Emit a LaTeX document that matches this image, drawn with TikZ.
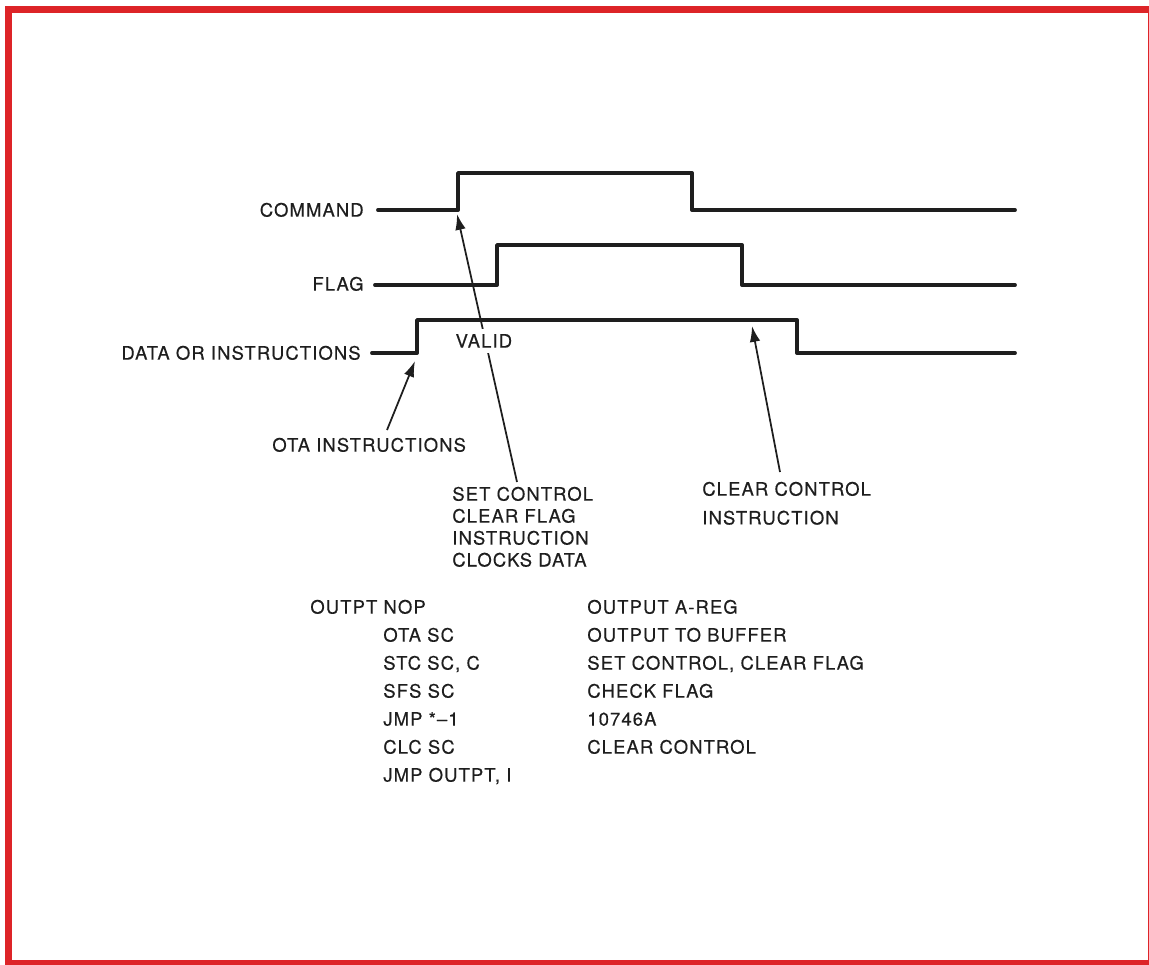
\documentclass[tikz,border=0pt]{standalone}
\usepackage{fontspec}
\setmainfont{TeX Gyre Heros}[LetterSpace=6, FakeBold=0.4]
\usepackage{tikz}
\usetikzlibrary{arrows.meta,positioning,calc}
\definecolor{FrameRed}{RGB}{221,36,40}
\definecolor{InkGray}{RGB}{30,30,30}

\tikzset{
  wave/.style={line width=2.2pt, InkGray, line join=round, line cap=round},
  pointer/.style={-{Latex[length=9pt,width=6pt]}, line width=1pt, InkGray},
  lbl/.style={inner sep=0pt, text height=7.5pt, text depth=0pt, text=InkGray,
    font=\fontsize{10.5}{12.5}\selectfont},
  block/.style={inner sep=0pt, align=left, anchor=north west, text=InkGray}
}

\begin{document}
\begin{tikzpicture}[x=0.02cm, y=-0.02cm]
        \useasboundingbox (0,0) rectangle (1149,964);
        \clip (0,0) rectangle (1149,964);
        \draw[FrameRed, line width=4pt] (8.5,9.5) rectangle (1151.5,963.5);
        % signal names
        \node[lbl, anchor=east] (cmdname) at (364,210) {COMMAND};
        \node[lbl, anchor=east] (flagname) at (364,284) {FLAG};
        \node[lbl, anchor=east] (dataname) at (361,353) {DATA OR INSTRUCTIONS};
        % waveforms
        \draw[wave] (378,210) -- (458,210) -- (458,173) -- (692,173) -- (692,210) -- (1015,210);
        \draw[wave] (375,285) -- (497,285) -- (497,245) -- (742,245) -- (742,285) -- (1015,285);
        \draw[wave] (372,353) -- (417,353) -- (417,320) -- (797,320) -- (797,353) -- (1015,353);
        % arrow ends
        \coordinate (otatail) at (387,430);
        \coordinate (otatip) at (415,361);
        \coordinate (settail) at (517,482);
        \coordinate (settip) at (457,214);
        \coordinate (clrtail) at (780,472);
        \coordinate (clrtip) at (752,326);
        \draw[pointer] (otatail) -- (otatip);
        \draw[pointer] (settail) -- (settip);
        \draw[pointer] (clrtail) -- (clrtip);
        \node[lbl, anchor=west, fill=white, inner sep=3pt] (valid) at (450,341) {VALID};
        % labels under the arrows
        \node[lbl, anchor=west] (ota) at (272,445) {OTA INSTRUCTIONS};
        \node[block, font=\fontsize{10.5}{12.5}\selectfont] (setctl) at (452,486.5)
          {SET CONTROL\\CLEAR FLAG\\INSTRUCTION\\CLOCKS DATA};
        \node[block, font=\fontsize{10.5}{16.4}\selectfont] (clrctl) at (702,481.5)
          {CLEAR CONTROL\\INSTRUCTION};
        % program listing
        \node[lbl, anchor=west] (ins0) at (310,607) {OUTPT NOP};
        \foreach \ins [count=\k] in {OTA SC, {STC SC, C}, SFS SC, {JMP *\textendash 1}, CLC SC, {JMP OUTPT, I}}
          \node[lbl, anchor=west] (ins\k) at (383,{607+28*\k}) {\ins};
        \foreach \cmt [count=\k from 0] in {OUTPUT A-REG, OUTPUT TO BUFFER, {SET CONTROL, CLEAR FLAG}, CHECK FLAG, 10746A, CLEAR CONTROL}
          \node[lbl, anchor=west] (cmt\k) at (587,{607+28*\k}) {\cmt};
      \end{tikzpicture}
\end{document}
